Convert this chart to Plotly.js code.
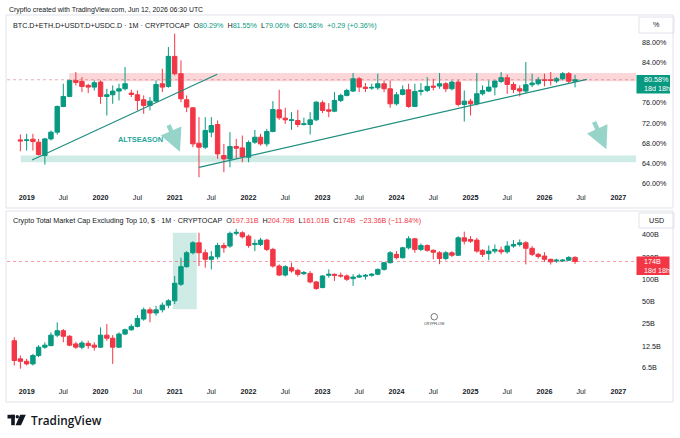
<!DOCTYPE html>
<html><head><meta charset="utf-8">
<script src="https://cdn.plot.ly/plotly-3.0.1.min.js"></script>
<style>html,body{margin:0;padding:0;background:#fff;}#chart{width:680px;height:438px;}</style>
</head><body><div id="chart"></div>
<script>
// ---------- DATA ----------
const months = [
 '2018-11','2018-12',
 '2019-01','2019-02','2019-03','2019-04','2019-05','2019-06','2019-07','2019-08','2019-09','2019-10','2019-11','2019-12',
 '2020-01','2020-02','2020-03','2020-04','2020-05','2020-06','2020-07','2020-08','2020-09','2020-10','2020-11','2020-12',
 '2021-01','2021-02','2021-03','2021-04','2021-05','2021-06','2021-07','2021-08','2021-09','2021-10','2021-11','2021-12',
 '2022-01','2022-02','2022-03','2022-04','2022-05','2022-06','2022-07','2022-08','2022-09','2022-10','2022-11','2022-12',
 '2023-01','2023-02','2023-03','2023-04','2023-05','2023-06','2023-07','2023-08','2023-09','2023-10','2023-11','2023-12',
 '2024-01','2024-02','2024-03','2024-04','2024-05','2024-06','2024-07','2024-08','2024-09','2024-10','2024-11','2024-12',
 '2025-01','2025-02','2025-03','2025-04','2025-05','2025-06','2025-07','2025-08','2025-09','2025-10','2025-11','2025-12',
 '2026-01','2026-02','2026-03','2026-04','2026-05','2026-06'
];
// top pane (BTC.D+ETH.D+USDT.D+USDC.D, %) starts Dec 2018
const domMonths = months.slice(1);
const domOpen = [
 68.65,68.52,68.79,68.19,65.54,68.85,70.18,75.28,77.27,80.45,80.25,79.46,79.12,
 80.12,77.27,77.60,78.33,78.79,77.93,77.60,76.61,75.48,76.34,79.79,79.26,
 85.22,81.78,76.61,75.02,67.99,67.20,70.18,71.70,65.54,64.88,67.33,67.06,
 65.21,68.19,69.18,67.86,70.31,74.62,72.96,72.50,72.50,71.70,71.70,72.63,
 76.01,74.62,74.35,76.47,77.47,78.33,80.78,79.12,78.92,78.99,79.79,78.79,
 75.81,77.67,78.59,75.28,78.26,78.46,79.32,79.32,79.79,78.79,80.12,75.68,
 76.34,75.81,77.80,78.33,79.12,80.25,80.98,79.65,78.79,78.33,79.59,79.79,
 80.58,80.58,80.32,80.78,81.78,80.29];
const domHigh = [
 69.71,69.85,69.85,68.85,69.05,70.51,75.48,79.79,80.58,82.11,81.11,79.79,80.45,
 80.45,78.79,79.46,79.79,83.10,78.59,78.46,77.47,77.14,80.45,82.77,87.08,
 89.73,84.43,77.47,75.15,73.16,73.16,73.16,72.50,67.86,70.18,68.85,69.52,
 68.52,70.64,69.85,70.84,76.34,78.59,75.02,74.15,74.62,73.03,74.15,76.34,
 76.47,75.94,78.13,77.80,78.79,81.91,81.11,79.92,79.79,81.78,80.45,80.45,
 78.13,79.46,79.79,79.79,79.92,81.11,80.78,81.91,80.12,80.45,80.58,78.46,
 76.80,81.91,79.46,80.45,80.45,82.11,81.64,80.12,79.46,84.09,81.78,81.11,
 81.78,82.11,81.11,82.11,82.11,81.55];
const domLow = [
 66.40,66.53,66.53,65.54,63.75,68.52,69.71,75.15,77.14,79.46,78.13,77.93,78.46,
 75.81,73.49,75.81,76.47,78.46,77.14,74.49,73.82,74.49,76.14,78.13,78.99,
 81.44,76.14,74.15,67.20,61.23,66.86,69.18,64.88,62.23,63.22,64.88,64.21,
 64.21,67.86,67.53,67.33,70.18,72.63,71.83,70.64,71.17,71.50,69.71,72.36,
 73.96,73.16,74.15,76.14,77.27,78.13,78.13,78.13,78.59,78.59,78.13,75.02,
 75.48,77.47,75.02,75.15,77.47,78.13,78.46,78.79,78.13,78.46,75.28,72.30,
 73.49,75.48,77.47,78.13,77.47,79.92,77.80,77.93,77.27,77.93,79.12,79.46,
 79.26,79.46,79.92,80.45,79.79,79.06];
const domClose = [
 68.45,68.65,68.32,65.74,68.85,70.18,75.28,77.27,80.45,80.05,79.26,79.12,79.99,
 77.27,77.60,78.33,78.79,79.79,77.67,76.47,75.48,76.34,79.65,79.12,85.22,
 81.78,76.80,75.15,67.86,67.20,70.51,71.50,65.87,64.88,67.33,67.00,65.34,
 68.12,69.18,67.86,70.31,74.68,73.03,72.63,72.63,71.70,71.83,72.63,76.14,
 74.49,74.35,76.47,77.47,78.46,80.78,79.12,78.86,79.06,79.79,78.79,75.81,
 77.60,78.59,75.28,78.26,78.46,79.26,79.12,79.79,78.79,80.12,75.68,76.34,
 75.81,77.80,78.46,79.12,80.32,80.98,79.65,78.66,78.33,79.59,79.92,80.58,
 80.45,80.45,80.78,81.78,80.29,80.58];

// bottom pane (Total market cap excl. top 10, billions USD) starts Nov 2018
const capOpen = [
 14.8,8.42,
 7.8,7.2,9.34,12.1,12.7,17.6,20.2,17.0,13.4,12.1,13.6,12.9,
 12.1,17.6,16.0,12.1,18.2,20.8,23.1,29.0,38.7,35.0,38.7,44.7,
 51.2,85.7,148,228,311,228,186,201,286,281,417,424,
 382,294,295,338,253,151,114,143.5,132,119,120,92,
 77.3,113,116.7,113,110.9,102,107,110,113,117,136,167.5,
 217,195.5,266,352,253,286,246,228,191,228,211,363,
 345,338,246,222,240,248,235,281,295,311,262,217,
 206,186,176,177,181,197.31];
const capHigh = [
 16.5,9.34,
 8.42,9.83,12.9,14.1,19.2,26.2,21.3,17.6,14.3,14.8,14.8,14.1,
 22.4,24.8,17.6,19.2,21.6,24.8,32.8,41.6,41.6,43.8,48.6,53.9,
 110.9,195.5,240,327,424,253,240,311,311,440,480,445,
 402,345,363,352,266,159,155,167.5,139,129.4,129,95,
 113,136,120,123,116.7,116.7,119,118,121,140,172,240,
 240,275,382,363,305,295,253,240,240,240,382,440,
 382,363,253,286,295,276,327,338,345,327,281,228,
 232,190,190,188,205,204.79];
const capLow = [
 6.85,6.2,
 6.85,6.85,8.87,11.5,12.5,16.5,14.1,12.5,11.5,11.3,11.5,10.9,
 11.8,14.8,7.2,11.8,17.6,20.2,22.4,27.6,26.2,32.2,35.7,40.7,
 46.1,81.4,143.5,217,151,143.5,136,186,228,266,390,355,
 266,240,281,240,143.5,110.9,109,123,109,114,88,72,
 75.7,105,95,105,95,81.4,104,99,108,113,131,163,
 186,190,253,228,240,236,186,160,180,200,206,295,
 311,228,200,181,224,217,222,266,275,159,206,190,
 172,158,167,171,176,161.01];
const capClose = [
 8.0,7.8,
 7.2,9.34,12.1,12.9,17.6,20.2,17.0,12.9,12.1,13.8,12.7,12.1,
 17.6,16.0,12.1,18.2,20.8,23.1,29.6,38.7,35.0,38.7,44.7,51.2,
 88.3,148,228,311,228,186,201,286,266,417,430,375,
 286,305,338,253,151,114,148,129.4,116.7,123,92,75,
 110.9,116.7,113,110.9,100,107,111,113,117,136,167.5,228,
 195.5,266,352,253,286,246,232,191,228,211,363,327,
 327,240,217,240,253,235,281,295,311,262,217,203,
 186,172,181,181,197.36,174];

// tick labels
const timeTickVals = ['2019-01-01','2019-07-01','2020-01-01','2020-07-01','2021-01-01','2021-07-01','2022-01-01','2022-07-01',
 '2023-01-01','2023-07-01','2024-01-01','2024-07-01','2025-01-01','2025-07-01','2026-01-01','2026-07-01','2027-01-01'];
const timeTickText = ['<b>2019</b>','Jul','<b>2020</b>','Jul','<b>2021</b>','Jul','<b>2022</b>','Jul',
 '<b>2023</b>','Jul','<b>2024</b>','Jul','<b>2025</b>','Jul','<b>2026</b>','Jul','<b>2027</b>'];
const domTickVals = [60,64,68,72,76,84,88];
const domTickText = ['60.00%','64.00%','68.00%','72.00%','76.00%','84.00%','88.00%'];
const capTickVals = [6.5,12.5,25,50,100,200,400];
const capTickText = ['6.5B','12.5B','25B','50B','100B','200B','400B'];

// levels / drawings
const domLast = 80.58, capLast = 174;
const resistanceZone = [80.3, 81.9];
const supportZone = [64.21, 65.54];

// ---------- LAYOUT HELPERS ----------
const W = 680, H = 438;
const px = x => x / W, py = y => 1 - y / H;
const UP = '#089981', DN = '#f23645', TXT = '#131722';
const FONT = 'Liberation Sans, Arial, sans-serif';
const xRange = ['2018-09-26', '2027-03-29'];

function candle(x, o, h, l, c, xa, ya) {
  return {type:'candlestick', x:x, open:o, high:h, low:l, close:c, xaxis:xa, yaxis:ya,
    increasing:{line:{color:UP, width:1}, fillcolor:UP},
    decreasing:{line:{color:DN, width:1}, fillcolor:DN},
    whiskerwidth:0, hoverinfo:'skip', showlegend:false};
}
const traces = [
  candle(domMonths, domOpen, domHigh, domLow, domClose, 'x', 'y'),
  candle(months, capOpen, capHigh, capLow, capClose, 'x2', 'y2')
];

const tickFont = {size:7.2, color:TXT, family:FONT};
const xAxisBase = {type:'date', range:xRange, tickvals:timeTickVals, ticktext:timeTickText, showgrid:false,
  zeroline:false, showline:false, ticks:'', tickfont:tickFont, rangeslider:{visible:false}, fixedrange:true};

const teal = 'rgba(8,153,129,0.2)';
const shapes = [
  // pane frames
  {type:'rect', xref:'paper', yref:'paper', x0:px(6), x1:px(673), y0:py(208), y1:py(15), line:{color:'#e0e3eb', width:1}},
  {type:'rect', xref:'paper', yref:'paper', x0:px(6), x1:px(673), y0:py(402), y1:py(211), line:{color:'#e0e3eb', width:1}},
  // zones
  {type:'rect', xref:'x', yref:'y', x0:'2019-07-30', x1:xRange[1], y0:resistanceZone[0], y1:resistanceZone[1],
   fillcolor:'rgba(242,54,69,0.2)', line:{width:0}, layer:'below'},
  {type:'rect', xref:'x', yref:'y', x0:'2018-12-03', x1:xRange[1], y0:supportZone[0], y1:supportZone[1],
   fillcolor:teal, line:{width:0}, layer:'below'},
  {type:'rect', xref:'x2', yref:'y2', x0:'2020-12-23', x1:'2021-04-20', y0:39.4, y1:426,
   fillcolor:teal, line:{width:0}, layer:'below'},
  // last price lines
  {type:'line', xref:'x domain', x0:0, x1:1, yref:'y', y0:domLast, y1:domLast, line:{color:'rgba(200,110,120,0.55)', width:1, dash:'dot'}},
  {type:'line', xref:'x2 domain', x0:0, x1:1, yref:'y2', y0:capLast, y1:capLast, line:{color:'rgba(242,54,69,0.5)', width:1, dash:'dot'}},
  // trend lines
  {type:'line', xref:'x', yref:'y', x0:'2019-01-28', y0:64.65, x1:'2021-07-30', y1:81.66, line:{color:'#1f8e7e', width:1.2}},
  {type:'line', xref:'x', yref:'y', x0:'2021-05-01', y0:63.2, x1:'2026-07-29', y1:80.67, line:{color:'#1f8e7e', width:1.2}},
  // last price tags
  {type:'rect', xref:'paper', yref:'paper', x0:px(636.5), x1:px(670), y0:py(93.5), y1:py(75), fillcolor:UP, line:{width:0}},
  {type:'rect', xref:'paper', yref:'paper', x0:px(636.5), x1:px(669.5), y0:py(275), y1:py(256.5), fillcolor:DN, line:{width:0}},
  // unit boxes
  {type:'rect', xref:'paper', yref:'paper', x0:px(639), x1:px(674), y0:py(33), y1:py(17), line:{color:'#e0e3eb', width:1}},
  {type:'rect', xref:'paper', yref:'paper', x0:px(639), x1:px(674), y0:py(228), y1:py(213), line:{color:'#e0e3eb', width:1}},
  // watermark circle
  {type:'circle', xref:'paper', yref:'paper', x0:px(431), x1:px(437.5), y0:py(320), y1:py(313.5), line:{color:'#555', width:0.8}},
  // TradingView logo mark
  {type:'rect', xref:'paper', yref:'paper', x0:px(7.5), x1:px(14.8), y0:py(418.5), y1:py(414.8), fillcolor:'#131722', line:{width:0}},
  {type:'rect', xref:'paper', yref:'paper', x0:px(11.2), x1:px(14.8), y0:py(425.2), y1:py(414.8), fillcolor:'#131722', line:{width:0}},
  {type:'circle', xref:'paper', yref:'paper', x0:px(15.6), x1:px(19.0), y0:py(418.4), y1:py(415.0), fillcolor:'#131722', line:{width:0}},
  {type:'path', xref:'paper', yref:'paper',
   path:`M ${px(20.2)} ${py(414.8)} L ${px(25.8)} ${py(414.8)} L ${px(21.0)} ${py(425.2)} L ${px(15.6)} ${py(425.2)} Z`,
   fillcolor:'#131722', line:{width:0}}
];

const g = s => `<span style="color:${UP}">${s}</span>`;
const r = s => `<span style="color:${DN}">${s}</span>`;
const sp = '\u00a0';
const hdrFont = {size:7.2, color:TXT, family:FONT};
function ann(x, y, text, opts) {
  return Object.assign({xref:'paper', yref:'paper', x:px(x), y:py(y), text:text, showarrow:false,
    xanchor:'left', yanchor:'middle', font:hdrFont}, opts || {});
}
const annotations = [
  ann(7, 9.5, 'Crypflo created with TradingView.com, Jun 12, 2026 06:30 UTC', {font:{size:6.9, color:TXT, family:FONT}}),
  ann(11, 25.5, `BTC.D+ETH.D+USDT.D+USDC.D · 1M · CRYPTOCAP${sp}${sp}O${g('80.29%')}${sp}${sp}H${g('81.55%')}${sp}${sp}L${g('79.06%')}${sp}${sp}C${g('80.58%')}${sp}${sp}${g('+0.29 (+0.36%)')}`),
  ann(11, 220.5, `Crypto Total Market Cap Excluding Top 10, $ · 1M · CRYPTOCAP${sp}${sp}O${r('197.31B')}${sp}${sp}H${r('204.79B')}${sp}${sp}L${r('161.01B')}${sp}${sp}C${r('174B')}${sp}${sp}${r('−23.36B (−11.84%)')}`),
  // unit labels
  ann(656.5, 25, '%', {xanchor:'center'}),
  ann(656.5, 220.5, 'USD', {xanchor:'center'}),
  // last price tag texts
  ann(641.5, 79.8, '80.58%', {font:{size:7.2, color:'#ffffff', family:FONT}}),
  ann(641.5, 88.8, '18d 18h', {font:{size:7.2, color:'#ffffff', family:FONT}}),
  ann(641.5, 261.3, '174B', {font:{size:7.2, color:'#ffffff', family:FONT}}),
  ann(641.5, 270.3, '18d 18h', {font:{size:7.2, color:'#ffffff', family:FONT}}),
  // ALTSEASON
  {xref:'x', yref:'y', x:'2020-07-18', y:68.76, text:'<b>ALTSEASON</b>', showarrow:false, xanchor:'center', yanchor:'middle',
   font:{size:7.4, color:'#26a69a', family:FONT}},
  // arrows
  {xref:'x', yref:'y', x:'2021-01-27', y:66.3, ax:-12, ay:-28, text:'', showarrow:true, arrowhead:2, arrowsize:1,
   arrowwidth:4.5, arrowcolor:'rgba(8,153,129,0.42)'},
  {xref:'x', yref:'y', x:'2026-11-03', y:66.78, ax:-13, ay:-29, text:'', showarrow:true, arrowhead:2, arrowsize:1,
   arrowwidth:4.5, arrowcolor:'rgba(8,153,129,0.42)'},
  // watermark
  ann(434.3, 323.8, 'CRYPFLOW', {xanchor:'center', font:{size:3.6, color:'#333', family:FONT}}),
  // brand
  ann(28.5, 420, 'TradingView', {font:{size:11.8, color:'#131722', family:'Open Sans, sans-serif', weight:600}})
];

const layout = {
  width:W, height:H, margin:{l:0, r:0, t:0, b:0}, paper_bgcolor:'#ffffff', plot_bgcolor:'#ffffff',
  showlegend:false, dragmode:false, boxgap:0.22, boxgroupgap:0,
  xaxis: Object.assign({}, xAxisBase, {domain:[px(7), px(636)], anchor:'y'}),
  yaxis: {domain:[py(192), py(16)], anchor:'x', side:'right', range:[58.31, 93.23], tickvals:domTickVals, ticktext:domTickText,
    showgrid:false, zeroline:false, showline:false, ticks:'', tickfont:tickFont, ticklabelstandoff:5, fixedrange:true},
  xaxis2: Object.assign({}, xAxisBase, {domain:[px(7), px(636)], anchor:'y2'}),
  yaxis2: {domain:[py(386), py(211)], anchor:'x2', side:'right', type:'log', range:[0.5587, 2.922], tickvals:capTickVals, ticktext:capTickText,
    showgrid:false, zeroline:false, showline:false, ticks:'', tickfont:tickFont, ticklabelstandoff:5, fixedrange:true},
  shapes:shapes, annotations:annotations
};
Plotly.newPlot('chart', traces, layout, {staticPlot:true, displayModeBar:false});
</script></body></html>
